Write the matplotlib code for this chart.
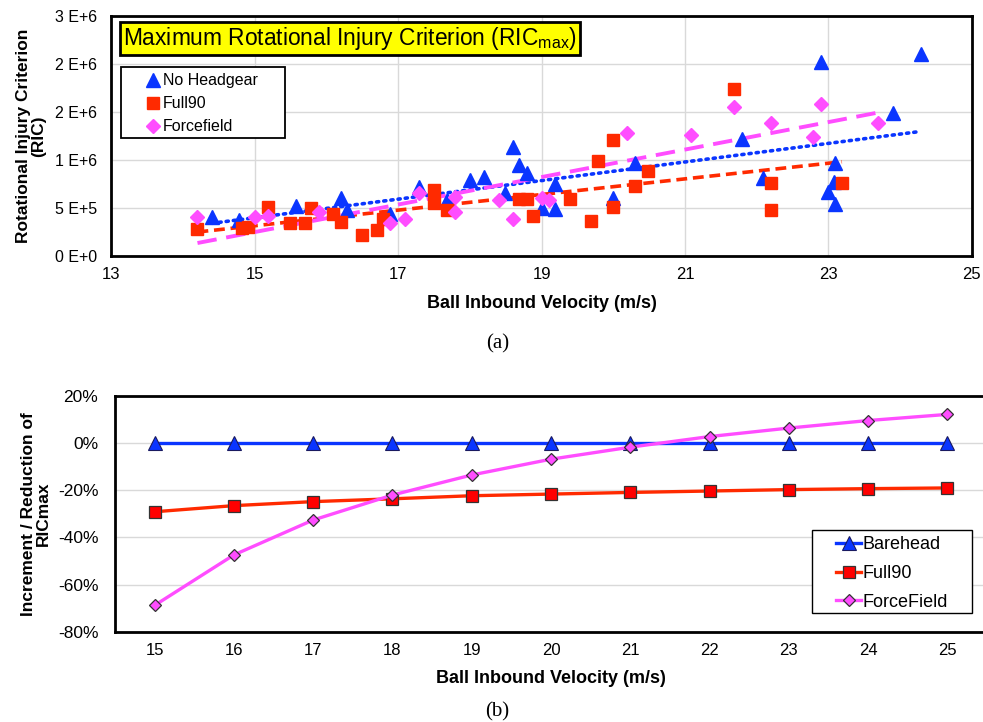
import numpy as np
import matplotlib
matplotlib.use("Agg")
import matplotlib.pyplot as plt
from matplotlib.patches import Rectangle

plt.rcParams["font.family"] = ["Liberation Sans", "DejaVu Sans"]
plt.rcParams["mathtext.default"] = "regular"

# ---- (a) scatter data: ball velocity (m/s) vs RIC ----
nohg_v = [14.40, 14.78, 15.58, 16.20, 16.28, 16.89, 17.29, 17.68, 18.00, 18.20,
          18.49, 18.60, 18.69, 18.79, 19.00, 19.19, 19.19, 19.99, 20.30, 21.80,
          22.09, 22.90, 22.99, 23.08, 23.09, 23.09, 23.90, 24.29]
nohg_ric = [0.41e6, 0.38e6, 0.52e6, 0.60e6, 0.48e6, 0.44e6, 0.72e6, 0.58e6, 0.79e6, 0.82e6,
            0.66e6, 1.14e6, 0.95e6, 0.87e6, 0.50e6, 0.75e6, 0.49e6, 0.60e6, 0.965e6, 1.215e6,
            0.81e6, 2.02e6, 0.67e6, 0.775e6, 0.965e6, 0.54e6, 1.486e6, 2.10e6]

full90_v = [14.20, 14.82, 14.91, 15.19, 15.49, 15.70, 15.79, 16.09, 16.20, 16.50,
            16.70, 16.79, 17.50, 17.50, 17.68, 18.69, 18.79, 18.88, 19.40, 19.69,
            19.79, 19.99, 19.99, 20.30, 20.49, 21.69, 22.20, 22.20, 23.19]
full90_ric = [0.278e6, 0.288e6, 0.305e6, 0.514e6, 0.34e6, 0.347e6, 0.497e6, 0.437e6, 0.357e6, 0.219e6,
              0.27e6, 0.39e6, 0.688e6, 0.555e6, 0.479e6, 0.59e6, 0.59e6, 0.417e6, 0.59e6, 0.365e6,
              0.99e6, 1.21e6, 0.514e6, 0.73e6, 0.885e6, 1.74e6, 0.757e6, 0.48e6, 0.757e6]

ff_v = [14.20, 15.00, 15.19, 15.90, 16.89, 17.09, 17.29, 17.79, 17.79, 18.40,
        18.60, 19.00, 19.10, 20.19, 21.09, 21.69, 22.20, 22.79, 22.90, 23.69]
ff_ric = [0.403e6, 0.403e6, 0.417e6, 0.46e6, 0.347e6, 0.39e6, 0.66e6, 0.618e6, 0.46e6, 0.583e6,
          0.39e6, 0.60e6, 0.583e6, 1.278e6, 1.26e6, 1.556e6, 1.382e6, 1.236e6, 1.583e6, 1.382e6]

ric_ticks = [0, 0.5e6, 1.0e6, 1.5e6, 2.0e6, 2.5e6]
ric_labels = ["0 E+0", "5 E+5", "1 E+6", "2 E+6", "2 E+6", "3 E+6"]

# ---- (b) relative change of RICmax vs barehead ----
vel = [15, 16, 17, 18, 19, 20, 21, 22, 23, 24, 25]
barehead = [0, 0, 0, 0, 0, 0, 0, 0, 0, 0, 0]
full90_pct = [-29.1, -26.5, -24.8, -23.6, -22.3, -21.6, -20.9, -20.3, -19.7, -19.3, -19.0]
forcefield_pct = [-68.8, -47.4, -32.6, -22.0, -13.5, -6.8, -1.7, 2.8, 6.4, 9.6, 12.2]
pct_ticks = [-80, -60, -40, -20, 0, 20]
pct_labels = ["-80%", "-60%", "-40%", "-20%", "0%", "20%"]

BLUE = "#0a35ff"
RED = "#ff2a00"
PINK = "#ff4dff"
GRID = "#d9d9d9"
serif = ["Liberation Serif", "DejaVu Serif"]

fig = plt.figure(figsize=(9.83, 7.22), dpi=100)

# ================= (a) =================
ax1 = fig.add_axes([0.1134, 0.6454, 0.8751, 0.3324])
ax1.set_xlim(13, 25)
ax1.set_ylim(0, 2.5e6)
ax1.set_xticks([13, 15, 17, 19, 21, 23, 25])
ax1.set_yticks(ric_ticks)
ax1.set_yticklabels(ric_labels)
ax1.grid(True, color=GRID, linewidth=1.0)
ax1.set_axisbelow(True)
for s in ax1.spines.values():
    s.set_linewidth(2.0)
ax1.tick_params(length=0)
ax1.tick_params(axis="y", labelsize=11.5, pad=10.5)
ax1.tick_params(axis="x", labelsize=12, pad=8)

ax1.plot(nohg_v, nohg_ric, "^", color=BLUE, ms=9.5, mec=BLUE, label="No Headgear", zorder=3)
ax1.plot(full90_v, full90_ric, "s", color=RED, ms=8, mec=RED, label="Full90", zorder=3)
ax1.plot(ff_v, ff_ric, "D", color=PINK, ms=7, mec=PINK, label="Forcefield", zorder=3)

# linear trendlines (least squares, like the spreadsheet)
for xs, ys, c, ls, lw in [(nohg_v, nohg_ric, BLUE, (0, (0.6, 1.4)), 2.6),
                         (full90_v, full90_ric, RED, (0, (3, 1.6)), 2.6),
                         (ff_v, ff_ric, PINK, (0, (5, 2.5)), 2.8)]:
    k, b = np.polyfit(xs, ys, 1)
    xx = np.array([min(xs), max(xs)])
    ax1.plot(xx, k * xx + b, color=c, linestyle=ls, linewidth=lw,
             dash_capstyle="round" if c == BLUE else "butt", zorder=2)

ax1.text(0.0135, 0.908, "Maximum Rotational Injury Criterion (RIC$_{max}$)",
         transform=ax1.transAxes, fontsize=16.4, va="center", ha="left",
         bbox=dict(boxstyle="square,pad=0.13", facecolor="#ffff00", edgecolor="black", linewidth=2))

# legend frame drawn separately so its padding matches the original box
ax1.add_patch(Rectangle((0.011, 0.4917), 0.1907, 0.2958, transform=ax1.transAxes,
                        facecolor="white", edgecolor="black", linewidth=1.3, zorder=4.5))
ax1.legend(loc="upper left", bbox_to_anchor=(0.041, 0.762), fontsize=11.5,
           frameon=False, handlelength=0.8, handletextpad=0.2, borderpad=0,
           borderaxespad=0, labelspacing=0.5)

ax1.set_ylabel("Rotational Injury Criterion\n(RIC)", fontsize=12.5, fontweight="bold",
               linespacing=1.0, labelpad=6)
ax1.set_xlabel("Ball Inbound Velocity (m/s)", fontsize=13, fontweight="bold", labelpad=9)
fig.text(0.506, 0.524, "(a)", fontsize=15, family=serif, ha="center", va="center")

# ================= (b) =================
ax2 = fig.add_axes([0.117, 0.125, 0.887, 0.3265])
ax2.set_xlim(14.5, 25.5)
ax2.set_ylim(-80, 20)
ax2.set_xticks(vel)
ax2.set_yticks(pct_ticks)
ax2.set_yticklabels(pct_labels)
ax2.yaxis.grid(True, color=GRID, linewidth=1.0)
ax2.set_axisbelow(True)
for s in ax2.spines.values():
    s.set_linewidth(2.0)
ax2.tick_params(length=0)
ax2.tick_params(axis="y", labelsize=12.5, pad=12)
ax2.tick_params(axis="x", labelsize=12, pad=8)

ax2.plot(vel, barehead, "-^", color=BLUE, lw=2.4, ms=9.5, mfc=BLUE, mec="#1a1a60", mew=0.8,
         label="Barehead", zorder=3)
ax2.plot(vel, full90_pct, "-s", color=RED, lw=2.4, ms=8.5, mfc="#ff0000", mec="#333333", mew=0.9,
         label="Full90", zorder=3)
ax2.plot(vel, forcefield_pct, "-D", color=PINK, lw=2.4, ms=6.5, mfc=PINK, mec="#333333", mew=0.9,
         label="ForceField", zorder=4)

ax2.add_patch(Rectangle((0.799, 0.078), 0.1835, 0.3535, transform=ax2.transAxes,
                        facecolor="white", edgecolor="black", linewidth=1.0, zorder=4.5))
ax2.legend(loc="upper left", bbox_to_anchor=(0.8268, 0.405), fontsize=13,
           frameon=False, handlelength=1.4, handletextpad=0.05, borderpad=0,
           borderaxespad=0, labelspacing=0.65)

ax2.set_ylabel("Increment / Reduction of\nRICmax", fontsize=12.5, fontweight="bold",
               linespacing=1.0, labelpad=5)
ax2.set_xlabel("Ball Inbound Velocity (m/s)", fontsize=13, fontweight="bold", labelpad=9)
fig.text(0.506, 0.0145, "(b)", fontsize=15, family=serif, ha="center", va="center")

fig.savefig("out.png", dpi=100)
